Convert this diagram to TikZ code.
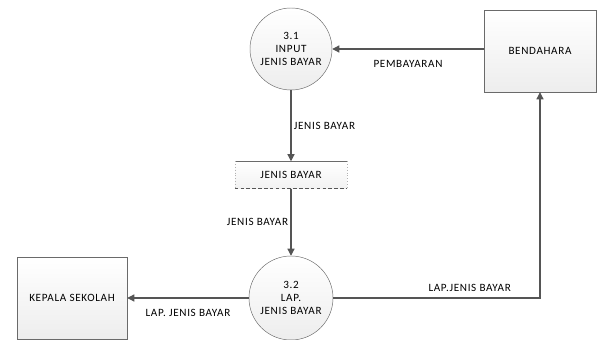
\documentclass[tikz,border=0pt]{standalone}
\usepackage{fontspec}
\setmainfont{Carlito}[LetterSpace=6]
\usepackage{xcolor}
\usepackage{tikz}
\usetikzlibrary{arrows.meta, positioning, calc}
\definecolor{lineg}{HTML}{555555}
\definecolor{edgeg}{HTML}{6A6A6A}
\tikzstyle{proc}     = [circle, minimum size=2.46cm, inner sep=0pt, align=center,
                        draw=edgeg, top color=white, bottom color=gray!14,
                        font=\fontsize{9.5}{11}\selectfont]
\tikzstyle{entity}   = [rectangle, minimum width=3.36cm, minimum height=2.46cm,
                        text centered, draw=edgeg, top color=white,
                        bottom color=gray!14, font=\fontsize{9.5}{11}\selectfont]
\tikzstyle{store}    = [rectangle, minimum width=3.36cm, minimum height=0.81cm,
                        text centered, top color=white, bottom color=gray!10,
                        font=\fontsize{9.5}{11}\selectfont]
\tikzstyle{arr}      = [-{Triangle[length=6pt, width=6pt]}, draw=lineg, line width=0.9pt]
\tikzstyle{lbl}      = [font=\fontsize{9.5}{11}\selectfont, inner sep=2pt]

\begin{document}
\begin{tikzpicture}

  \useasboundingbox (0,0) rectangle (17.94,-10.2);

  \node[proc] (p31) at (8.73,-1.47) {3.1\\INPUT\\JENIS BAYAR};
  \node[entity] (bend) at (16.2,-1.53) {BENDAHARA};
  \node[store] (jb) at (8.73,-5.25) {JENIS BAYAR};
  \node[proc, minimum size=2.52cm] (p32) at (8.73,-8.94)
      {3.2\\LAP.\\JENIS BAYAR};
  \node[entity, minimum width=3.3cm] (kepsek) at (2.16,-8.94)
      {KEPALA SEKOLAH};

  % data store edges
  \draw[edgeg, line width=0.6pt] (jb.north west) -- (jb.north east);
  \draw[gray!60, dotted] (jb.north west) -- (jb.south west);
  \draw[gray!60, dotted] (jb.north east) -- (jb.south east);
  \draw[lineg, line width=0.8pt, densely dashed] (jb.south west) -- (jb.south east);

  \draw[arr] (bend.west |- p31.east) -- (p31.east)
      node[lbl, midway, below=7pt] {PEMBAYARAN};
  \draw[arr] (p31.south) -- (jb.north)
      node[lbl, midway, right] {JENIS BAYAR};
  \draw[arr] (jb.south) -- (p32.north)
      node[lbl, midway, left] {JENIS BAYAR};
  \draw[arr] (p32.west) -- (kepsek.east)
      node[lbl, midway, below=7pt] {LAP. JENIS BAYAR};
  \draw[arr] (p32.east) -| (bend.south)
      node[lbl, pos=0.33, above=3pt] {LAP.JENIS BAYAR};

\end{tikzpicture}
\end{document}
